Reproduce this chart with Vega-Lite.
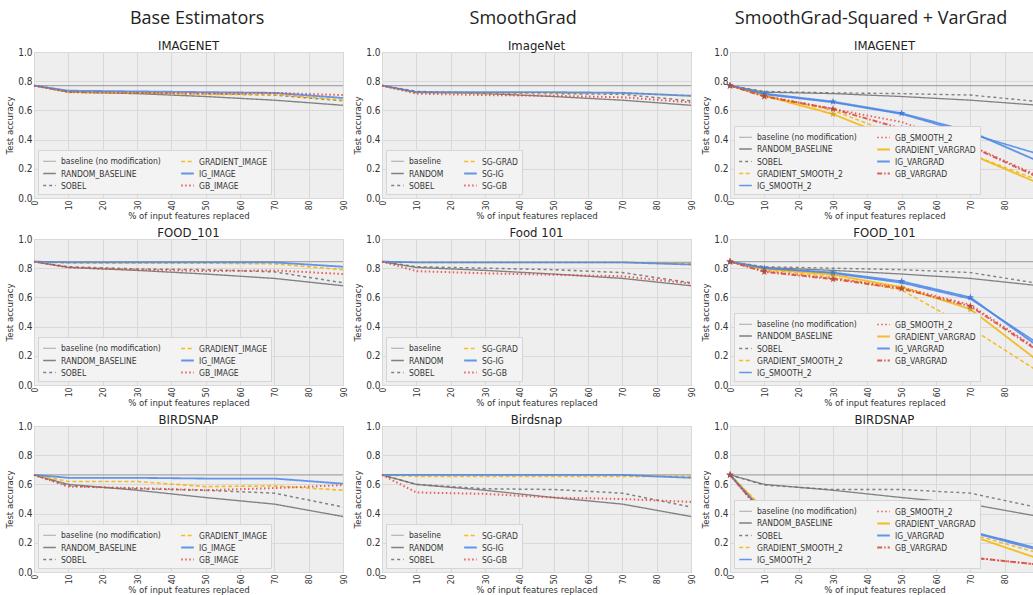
{
"$schema":"https://vega.github.io/schema/vega-lite/v6.json",
"padding":{"left":4,"top":9,"right":0,"bottom":0},
"background":"white",
"data":{"values":[
{"c":1,"d":"I","s":"baseline (no modification)","x":0,"y":0.77},{"c":1,"d":"I","s":"baseline (no modification)","x":90,"y":0.77},
{"c":1,"d":"I","s":"RANDOM_BASELINE","x":0,"y":0.77},{"c":1,"d":"I","s":"RANDOM_BASELINE","x":10,"y":0.725},{"c":1,"d":"I","s":"RANDOM_BASELINE","x":30,"y":0.715},{"c":1,"d":"I","s":"RANDOM_BASELINE","x":50,"y":0.695},{"c":1,"d":"I","s":"RANDOM_BASELINE","x":70,"y":0.67},{"c":1,"d":"I","s":"RANDOM_BASELINE","x":90,"y":0.635},
{"c":1,"d":"I","s":"SOBEL","x":0,"y":0.77},{"c":1,"d":"I","s":"SOBEL","x":10,"y":0.73},{"c":1,"d":"I","s":"SOBEL","x":30,"y":0.72},{"c":1,"d":"I","s":"SOBEL","x":50,"y":0.715},{"c":1,"d":"I","s":"SOBEL","x":70,"y":0.705},{"c":1,"d":"I","s":"SOBEL","x":90,"y":0.665},
{"c":1,"d":"I","s":"GRADIENT_IMAGE","x":0,"y":0.77},{"c":1,"d":"I","s":"GRADIENT_IMAGE","x":10,"y":0.725},{"c":1,"d":"I","s":"GRADIENT_IMAGE","x":30,"y":0.72},{"c":1,"d":"I","s":"GRADIENT_IMAGE","x":50,"y":0.71},{"c":1,"d":"I","s":"GRADIENT_IMAGE","x":70,"y":0.71},{"c":1,"d":"I","s":"GRADIENT_IMAGE","x":90,"y":0.67},
{"c":1,"d":"I","s":"IG_IMAGE","x":0,"y":0.77},{"c":1,"d":"I","s":"IG_IMAGE","x":10,"y":0.735},{"c":1,"d":"I","s":"IG_IMAGE","x":30,"y":0.73},{"c":1,"d":"I","s":"IG_IMAGE","x":50,"y":0.725},{"c":1,"d":"I","s":"IG_IMAGE","x":70,"y":0.72},{"c":1,"d":"I","s":"IG_IMAGE","x":90,"y":0.685},
{"c":1,"d":"I","s":"GB_IMAGE","x":0,"y":0.77},{"c":1,"d":"I","s":"GB_IMAGE","x":10,"y":0.725},{"c":1,"d":"I","s":"GB_IMAGE","x":30,"y":0.72},{"c":1,"d":"I","s":"GB_IMAGE","x":50,"y":0.715},{"c":1,"d":"I","s":"GB_IMAGE","x":70,"y":0.72},{"c":1,"d":"I","s":"GB_IMAGE","x":90,"y":0.705},

{"c":1,"d":"F","s":"baseline (no modification)","x":0,"y":0.845},{"c":1,"d":"F","s":"baseline (no modification)","x":90,"y":0.845},
{"c":1,"d":"F","s":"RANDOM_BASELINE","x":0,"y":0.845},{"c":1,"d":"F","s":"RANDOM_BASELINE","x":10,"y":0.805},{"c":1,"d":"F","s":"RANDOM_BASELINE","x":30,"y":0.785},{"c":1,"d":"F","s":"RANDOM_BASELINE","x":50,"y":0.76},{"c":1,"d":"F","s":"RANDOM_BASELINE","x":70,"y":0.73},{"c":1,"d":"F","s":"RANDOM_BASELINE","x":90,"y":0.68},
{"c":1,"d":"F","s":"SOBEL","x":0,"y":0.845},{"c":1,"d":"F","s":"SOBEL","x":10,"y":0.81},{"c":1,"d":"F","s":"SOBEL","x":30,"y":0.795},{"c":1,"d":"F","s":"SOBEL","x":50,"y":0.79},{"c":1,"d":"F","s":"SOBEL","x":70,"y":0.775},{"c":1,"d":"F","s":"SOBEL","x":90,"y":0.70},
{"c":1,"d":"F","s":"GRADIENT_IMAGE","x":0,"y":0.845},{"c":1,"d":"F","s":"GRADIENT_IMAGE","x":10,"y":0.835},{"c":1,"d":"F","s":"GRADIENT_IMAGE","x":30,"y":0.835},{"c":1,"d":"F","s":"GRADIENT_IMAGE","x":50,"y":0.835},{"c":1,"d":"F","s":"GRADIENT_IMAGE","x":70,"y":0.83},{"c":1,"d":"F","s":"GRADIENT_IMAGE","x":90,"y":0.79},
{"c":1,"d":"F","s":"IG_IMAGE","x":0,"y":0.845},{"c":1,"d":"F","s":"IG_IMAGE","x":10,"y":0.84},{"c":1,"d":"F","s":"IG_IMAGE","x":30,"y":0.84},{"c":1,"d":"F","s":"IG_IMAGE","x":50,"y":0.84},{"c":1,"d":"F","s":"IG_IMAGE","x":70,"y":0.84},{"c":1,"d":"F","s":"IG_IMAGE","x":90,"y":0.81},
{"c":1,"d":"F","s":"GB_IMAGE","x":0,"y":0.845},{"c":1,"d":"F","s":"GB_IMAGE","x":10,"y":0.805},{"c":1,"d":"F","s":"GB_IMAGE","x":30,"y":0.79},{"c":1,"d":"F","s":"GB_IMAGE","x":50,"y":0.78},{"c":1,"d":"F","s":"GB_IMAGE","x":70,"y":0.785},{"c":1,"d":"F","s":"GB_IMAGE","x":90,"y":0.76},

{"c":1,"d":"B","s":"baseline (no modification)","x":0,"y":0.665},{"c":1,"d":"B","s":"baseline (no modification)","x":90,"y":0.665},
{"c":1,"d":"B","s":"RANDOM_BASELINE","x":0,"y":0.665},{"c":1,"d":"B","s":"RANDOM_BASELINE","x":10,"y":0.60},{"c":1,"d":"B","s":"RANDOM_BASELINE","x":30,"y":0.56},{"c":1,"d":"B","s":"RANDOM_BASELINE","x":50,"y":0.51},{"c":1,"d":"B","s":"RANDOM_BASELINE","x":70,"y":0.465},{"c":1,"d":"B","s":"RANDOM_BASELINE","x":90,"y":0.38},
{"c":1,"d":"B","s":"SOBEL","x":0,"y":0.665},{"c":1,"d":"B","s":"SOBEL","x":10,"y":0.59},{"c":1,"d":"B","s":"SOBEL","x":30,"y":0.57},{"c":1,"d":"B","s":"SOBEL","x":50,"y":0.56},{"c":1,"d":"B","s":"SOBEL","x":70,"y":0.54},{"c":1,"d":"B","s":"SOBEL","x":90,"y":0.445},
{"c":1,"d":"B","s":"GRADIENT_IMAGE","x":0,"y":0.665},{"c":1,"d":"B","s":"GRADIENT_IMAGE","x":10,"y":0.62},{"c":1,"d":"B","s":"GRADIENT_IMAGE","x":30,"y":0.62},{"c":1,"d":"B","s":"GRADIENT_IMAGE","x":50,"y":0.585},{"c":1,"d":"B","s":"GRADIENT_IMAGE","x":70,"y":0.59},{"c":1,"d":"B","s":"GRADIENT_IMAGE","x":90,"y":0.56},
{"c":1,"d":"B","s":"IG_IMAGE","x":0,"y":0.665},{"c":1,"d":"B","s":"IG_IMAGE","x":10,"y":0.645},{"c":1,"d":"B","s":"IG_IMAGE","x":30,"y":0.645},{"c":1,"d":"B","s":"IG_IMAGE","x":50,"y":0.64},{"c":1,"d":"B","s":"IG_IMAGE","x":70,"y":0.64},{"c":1,"d":"B","s":"IG_IMAGE","x":90,"y":0.605},
{"c":1,"d":"B","s":"GB_IMAGE","x":0,"y":0.665},{"c":1,"d":"B","s":"GB_IMAGE","x":10,"y":0.585},{"c":1,"d":"B","s":"GB_IMAGE","x":30,"y":0.575},{"c":1,"d":"B","s":"GB_IMAGE","x":50,"y":0.56},{"c":1,"d":"B","s":"GB_IMAGE","x":70,"y":0.575},{"c":1,"d":"B","s":"GB_IMAGE","x":90,"y":0.595},

{"c":2,"d":"I","s":"baseline","x":0,"y":0.77},{"c":2,"d":"I","s":"baseline","x":90,"y":0.77},
{"c":2,"d":"I","s":"RANDOM","x":0,"y":0.77},{"c":2,"d":"I","s":"RANDOM","x":10,"y":0.725},{"c":2,"d":"I","s":"RANDOM","x":30,"y":0.715},{"c":2,"d":"I","s":"RANDOM","x":50,"y":0.695},{"c":2,"d":"I","s":"RANDOM","x":70,"y":0.67},{"c":2,"d":"I","s":"RANDOM","x":90,"y":0.635},
{"c":2,"d":"I","s":"SOBEL","x":0,"y":0.77},{"c":2,"d":"I","s":"SOBEL","x":10,"y":0.73},{"c":2,"d":"I","s":"SOBEL","x":30,"y":0.72},{"c":2,"d":"I","s":"SOBEL","x":50,"y":0.715},{"c":2,"d":"I","s":"SOBEL","x":70,"y":0.71},{"c":2,"d":"I","s":"SOBEL","x":90,"y":0.665},
{"c":2,"d":"I","s":"SG-GRAD","x":0,"y":0.77},{"c":2,"d":"I","s":"SG-GRAD","x":10,"y":0.72},{"c":2,"d":"I","s":"SG-GRAD","x":30,"y":0.72},{"c":2,"d":"I","s":"SG-GRAD","x":50,"y":0.72},{"c":2,"d":"I","s":"SG-GRAD","x":70,"y":0.72},{"c":2,"d":"I","s":"SG-GRAD","x":90,"y":0.70},
{"c":2,"d":"I","s":"SG-IG","x":0,"y":0.77},{"c":2,"d":"I","s":"SG-IG","x":10,"y":0.725},{"c":2,"d":"I","s":"SG-IG","x":30,"y":0.725},{"c":2,"d":"I","s":"SG-IG","x":50,"y":0.725},{"c":2,"d":"I","s":"SG-IG","x":70,"y":0.72},{"c":2,"d":"I","s":"SG-IG","x":90,"y":0.70},
{"c":2,"d":"I","s":"SG-GB","x":0,"y":0.77},{"c":2,"d":"I","s":"SG-GB","x":10,"y":0.715},{"c":2,"d":"I","s":"SG-GB","x":30,"y":0.705},{"c":2,"d":"I","s":"SG-GB","x":50,"y":0.70},{"c":2,"d":"I","s":"SG-GB","x":70,"y":0.69},{"c":2,"d":"I","s":"SG-GB","x":90,"y":0.655},

{"c":2,"d":"F","s":"baseline","x":0,"y":0.84},{"c":2,"d":"F","s":"baseline","x":90,"y":0.84},
{"c":2,"d":"F","s":"RANDOM","x":0,"y":0.845},{"c":2,"d":"F","s":"RANDOM","x":10,"y":0.805},{"c":2,"d":"F","s":"RANDOM","x":30,"y":0.785},{"c":2,"d":"F","s":"RANDOM","x":50,"y":0.76},{"c":2,"d":"F","s":"RANDOM","x":70,"y":0.73},{"c":2,"d":"F","s":"RANDOM","x":90,"y":0.68},
{"c":2,"d":"F","s":"SOBEL","x":0,"y":0.845},{"c":2,"d":"F","s":"SOBEL","x":10,"y":0.81},{"c":2,"d":"F","s":"SOBEL","x":30,"y":0.80},{"c":2,"d":"F","s":"SOBEL","x":50,"y":0.79},{"c":2,"d":"F","s":"SOBEL","x":70,"y":0.77},{"c":2,"d":"F","s":"SOBEL","x":90,"y":0.70},
{"c":2,"d":"F","s":"SG-GRAD","x":0,"y":0.845},{"c":2,"d":"F","s":"SG-GRAD","x":10,"y":0.84},{"c":2,"d":"F","s":"SG-GRAD","x":30,"y":0.84},{"c":2,"d":"F","s":"SG-GRAD","x":50,"y":0.84},{"c":2,"d":"F","s":"SG-GRAD","x":70,"y":0.84},{"c":2,"d":"F","s":"SG-GRAD","x":90,"y":0.83},
{"c":2,"d":"F","s":"SG-IG","x":0,"y":0.845},{"c":2,"d":"F","s":"SG-IG","x":10,"y":0.84},{"c":2,"d":"F","s":"SG-IG","x":30,"y":0.84},{"c":2,"d":"F","s":"SG-IG","x":50,"y":0.84},{"c":2,"d":"F","s":"SG-IG","x":70,"y":0.84},{"c":2,"d":"F","s":"SG-IG","x":90,"y":0.825},
{"c":2,"d":"F","s":"SG-GB","x":0,"y":0.845},{"c":2,"d":"F","s":"SG-GB","x":10,"y":0.78},{"c":2,"d":"F","s":"SG-GB","x":30,"y":0.765},{"c":2,"d":"F","s":"SG-GB","x":50,"y":0.755},{"c":2,"d":"F","s":"SG-GB","x":70,"y":0.745},{"c":2,"d":"F","s":"SG-GB","x":90,"y":0.695},

{"c":2,"d":"B","s":"baseline","x":0,"y":0.665},{"c":2,"d":"B","s":"baseline","x":90,"y":0.665},
{"c":2,"d":"B","s":"RANDOM","x":0,"y":0.665},{"c":2,"d":"B","s":"RANDOM","x":10,"y":0.60},{"c":2,"d":"B","s":"RANDOM","x":30,"y":0.56},{"c":2,"d":"B","s":"RANDOM","x":50,"y":0.51},{"c":2,"d":"B","s":"RANDOM","x":70,"y":0.465},{"c":2,"d":"B","s":"RANDOM","x":90,"y":0.38},
{"c":2,"d":"B","s":"SOBEL","x":0,"y":0.665},{"c":2,"d":"B","s":"SOBEL","x":10,"y":0.60},{"c":2,"d":"B","s":"SOBEL","x":30,"y":0.57},{"c":2,"d":"B","s":"SOBEL","x":50,"y":0.565},{"c":2,"d":"B","s":"SOBEL","x":70,"y":0.54},{"c":2,"d":"B","s":"SOBEL","x":90,"y":0.445},
{"c":2,"d":"B","s":"SG-GRAD","x":0,"y":0.665},{"c":2,"d":"B","s":"SG-GRAD","x":10,"y":0.655},{"c":2,"d":"B","s":"SG-GRAD","x":30,"y":0.655},{"c":2,"d":"B","s":"SG-GRAD","x":50,"y":0.655},{"c":2,"d":"B","s":"SG-GRAD","x":70,"y":0.655},{"c":2,"d":"B","s":"SG-GRAD","x":90,"y":0.655},
{"c":2,"d":"B","s":"SG-IG","x":0,"y":0.665},{"c":2,"d":"B","s":"SG-IG","x":10,"y":0.665},{"c":2,"d":"B","s":"SG-IG","x":30,"y":0.665},{"c":2,"d":"B","s":"SG-IG","x":50,"y":0.665},{"c":2,"d":"B","s":"SG-IG","x":70,"y":0.665},{"c":2,"d":"B","s":"SG-IG","x":90,"y":0.645},
{"c":2,"d":"B","s":"SG-GB","x":0,"y":0.665},{"c":2,"d":"B","s":"SG-GB","x":10,"y":0.545},{"c":2,"d":"B","s":"SG-GB","x":30,"y":0.535},{"c":2,"d":"B","s":"SG-GB","x":50,"y":0.51},{"c":2,"d":"B","s":"SG-GB","x":70,"y":0.50},{"c":2,"d":"B","s":"SG-GB","x":90,"y":0.48},

{"c":3,"d":"I","s":"baseline (no modification)","x":0,"y":0.77},{"c":3,"d":"I","s":"baseline (no modification)","x":90,"y":0.77},
{"c":3,"d":"I","s":"RANDOM_BASELINE","x":0,"y":0.77},{"c":3,"d":"I","s":"RANDOM_BASELINE","x":10,"y":0.725},{"c":3,"d":"I","s":"RANDOM_BASELINE","x":30,"y":0.715},{"c":3,"d":"I","s":"RANDOM_BASELINE","x":50,"y":0.695},{"c":3,"d":"I","s":"RANDOM_BASELINE","x":70,"y":0.67},{"c":3,"d":"I","s":"RANDOM_BASELINE","x":90,"y":0.635},
{"c":3,"d":"I","s":"SOBEL","x":0,"y":0.77},{"c":3,"d":"I","s":"SOBEL","x":10,"y":0.73},{"c":3,"d":"I","s":"SOBEL","x":30,"y":0.72},{"c":3,"d":"I","s":"SOBEL","x":50,"y":0.715},{"c":3,"d":"I","s":"SOBEL","x":70,"y":0.705},{"c":3,"d":"I","s":"SOBEL","x":90,"y":0.66},
{"c":3,"d":"I","s":"GRADIENT_SMOOTH_2","x":0,"y":0.77},{"c":3,"d":"I","s":"GRADIENT_SMOOTH_2","x":10,"y":0.70},{"c":3,"d":"I","s":"GRADIENT_SMOOTH_2","x":30,"y":0.60},{"c":3,"d":"I","s":"GRADIENT_SMOOTH_2","x":50,"y":0.42},{"c":3,"d":"I","s":"GRADIENT_SMOOTH_2","x":70,"y":0.30},{"c":3,"d":"I","s":"GRADIENT_SMOOTH_2","x":90,"y":0.12},
{"c":3,"d":"I","s":"IG_SMOOTH_2","x":0,"y":0.77},{"c":3,"d":"I","s":"IG_SMOOTH_2","x":10,"y":0.71},{"c":3,"d":"I","s":"IG_SMOOTH_2","x":30,"y":0.655},{"c":3,"d":"I","s":"IG_SMOOTH_2","x":50,"y":0.575},{"c":3,"d":"I","s":"IG_SMOOTH_2","x":70,"y":0.44},{"c":3,"d":"I","s":"IG_SMOOTH_2","x":90,"y":0.30},
{"c":3,"d":"I","s":"GB_SMOOTH_2","x":0,"y":0.77},{"c":3,"d":"I","s":"GB_SMOOTH_2","x":10,"y":0.70},{"c":3,"d":"I","s":"GB_SMOOTH_2","x":30,"y":0.61},{"c":3,"d":"I","s":"GB_SMOOTH_2","x":50,"y":0.52},{"c":3,"d":"I","s":"GB_SMOOTH_2","x":70,"y":0.36},{"c":3,"d":"I","s":"GB_SMOOTH_2","x":90,"y":0.15},
{"c":3,"d":"I","s":"GRADIENT_VARGRAD","x":0,"y":0.77},{"c":3,"d":"I","s":"GRADIENT_VARGRAD","x":10,"y":0.70},{"c":3,"d":"I","s":"GRADIENT_VARGRAD","x":30,"y":0.575},{"c":3,"d":"I","s":"GRADIENT_VARGRAD","x":50,"y":0.385},{"c":3,"d":"I","s":"GRADIENT_VARGRAD","x":70,"y":0.30},{"c":3,"d":"I","s":"GRADIENT_VARGRAD","x":90,"y":0.10},
{"c":3,"d":"I","s":"IG_VARGRAD","x":0,"y":0.77},{"c":3,"d":"I","s":"IG_VARGRAD","x":10,"y":0.715},{"c":3,"d":"I","s":"IG_VARGRAD","x":30,"y":0.66},{"c":3,"d":"I","s":"IG_VARGRAD","x":50,"y":0.58},{"c":3,"d":"I","s":"IG_VARGRAD","x":70,"y":0.455},{"c":3,"d":"I","s":"IG_VARGRAD","x":90,"y":0.25},
{"c":3,"d":"I","s":"GB_VARGRAD","x":0,"y":0.77},{"c":3,"d":"I","s":"GB_VARGRAD","x":10,"y":0.695},{"c":3,"d":"I","s":"GB_VARGRAD","x":30,"y":0.61},{"c":3,"d":"I","s":"GB_VARGRAD","x":50,"y":0.475},{"c":3,"d":"I","s":"GB_VARGRAD","x":70,"y":0.355},{"c":3,"d":"I","s":"GB_VARGRAD","x":90,"y":0.14},

{"c":3,"d":"F","s":"baseline (no modification)","x":0,"y":0.845},{"c":3,"d":"F","s":"baseline (no modification)","x":90,"y":0.845},
{"c":3,"d":"F","s":"RANDOM_BASELINE","x":0,"y":0.845},{"c":3,"d":"F","s":"RANDOM_BASELINE","x":10,"y":0.805},{"c":3,"d":"F","s":"RANDOM_BASELINE","x":30,"y":0.785},{"c":3,"d":"F","s":"RANDOM_BASELINE","x":50,"y":0.76},{"c":3,"d":"F","s":"RANDOM_BASELINE","x":70,"y":0.73},{"c":3,"d":"F","s":"RANDOM_BASELINE","x":90,"y":0.68},
{"c":3,"d":"F","s":"SOBEL","x":0,"y":0.845},{"c":3,"d":"F","s":"SOBEL","x":10,"y":0.81},{"c":3,"d":"F","s":"SOBEL","x":30,"y":0.80},{"c":3,"d":"F","s":"SOBEL","x":50,"y":0.79},{"c":3,"d":"F","s":"SOBEL","x":70,"y":0.77},{"c":3,"d":"F","s":"SOBEL","x":90,"y":0.695},
{"c":3,"d":"F","s":"GRADIENT_SMOOTH_2","x":0,"y":0.845},{"c":3,"d":"F","s":"GRADIENT_SMOOTH_2","x":10,"y":0.79},{"c":3,"d":"F","s":"GRADIENT_SMOOTH_2","x":30,"y":0.74},{"c":3,"d":"F","s":"GRADIENT_SMOOTH_2","x":50,"y":0.65},{"c":3,"d":"F","s":"GRADIENT_SMOOTH_2","x":70,"y":0.39},{"c":3,"d":"F","s":"GRADIENT_SMOOTH_2","x":90,"y":0.09},
{"c":3,"d":"F","s":"IG_SMOOTH_2","x":0,"y":0.845},{"c":3,"d":"F","s":"IG_SMOOTH_2","x":10,"y":0.80},{"c":3,"d":"F","s":"IG_SMOOTH_2","x":30,"y":0.765},{"c":3,"d":"F","s":"IG_SMOOTH_2","x":50,"y":0.70},{"c":3,"d":"F","s":"IG_SMOOTH_2","x":70,"y":0.59},{"c":3,"d":"F","s":"IG_SMOOTH_2","x":90,"y":0.28},
{"c":3,"d":"F","s":"GB_SMOOTH_2","x":0,"y":0.845},{"c":3,"d":"F","s":"GB_SMOOTH_2","x":10,"y":0.78},{"c":3,"d":"F","s":"GB_SMOOTH_2","x":30,"y":0.73},{"c":3,"d":"F","s":"GB_SMOOTH_2","x":50,"y":0.67},{"c":3,"d":"F","s":"GB_SMOOTH_2","x":70,"y":0.55},{"c":3,"d":"F","s":"GB_SMOOTH_2","x":90,"y":0.24},
{"c":3,"d":"F","s":"GRADIENT_VARGRAD","x":0,"y":0.845},{"c":3,"d":"F","s":"GRADIENT_VARGRAD","x":10,"y":0.795},{"c":3,"d":"F","s":"GRADIENT_VARGRAD","x":30,"y":0.755},{"c":3,"d":"F","s":"GRADIENT_VARGRAD","x":50,"y":0.67},{"c":3,"d":"F","s":"GRADIENT_VARGRAD","x":70,"y":0.52},{"c":3,"d":"F","s":"GRADIENT_VARGRAD","x":90,"y":0.16},
{"c":3,"d":"F","s":"IG_VARGRAD","x":0,"y":0.845},{"c":3,"d":"F","s":"IG_VARGRAD","x":10,"y":0.80},{"c":3,"d":"F","s":"IG_VARGRAD","x":30,"y":0.77},{"c":3,"d":"F","s":"IG_VARGRAD","x":50,"y":0.71},{"c":3,"d":"F","s":"IG_VARGRAD","x":70,"y":0.60},{"c":3,"d":"F","s":"IG_VARGRAD","x":90,"y":0.26},
{"c":3,"d":"F","s":"GB_VARGRAD","x":0,"y":0.845},{"c":3,"d":"F","s":"GB_VARGRAD","x":10,"y":0.775},{"c":3,"d":"F","s":"GB_VARGRAD","x":30,"y":0.725},{"c":3,"d":"F","s":"GB_VARGRAD","x":50,"y":0.66},{"c":3,"d":"F","s":"GB_VARGRAD","x":70,"y":0.54},{"c":3,"d":"F","s":"GB_VARGRAD","x":90,"y":0.23},

{"c":3,"d":"B","s":"baseline (no modification)","x":0,"y":0.665},{"c":3,"d":"B","s":"baseline (no modification)","x":90,"y":0.665},
{"c":3,"d":"B","s":"RANDOM_BASELINE","x":0,"y":0.665},{"c":3,"d":"B","s":"RANDOM_BASELINE","x":10,"y":0.60},{"c":3,"d":"B","s":"RANDOM_BASELINE","x":30,"y":0.56},{"c":3,"d":"B","s":"RANDOM_BASELINE","x":50,"y":0.51},{"c":3,"d":"B","s":"RANDOM_BASELINE","x":70,"y":0.465},{"c":3,"d":"B","s":"RANDOM_BASELINE","x":90,"y":0.38},
{"c":3,"d":"B","s":"SOBEL","x":0,"y":0.665},{"c":3,"d":"B","s":"SOBEL","x":10,"y":0.595},{"c":3,"d":"B","s":"SOBEL","x":30,"y":0.565},{"c":3,"d":"B","s":"SOBEL","x":50,"y":0.565},{"c":3,"d":"B","s":"SOBEL","x":70,"y":0.54},{"c":3,"d":"B","s":"SOBEL","x":90,"y":0.44},
{"c":3,"d":"B","s":"GRADIENT_SMOOTH_2","x":0,"y":0.665},{"c":3,"d":"B","s":"GRADIENT_SMOOTH_2","x":10,"y":0.43},{"c":3,"d":"B","s":"GRADIENT_SMOOTH_2","x":30,"y":0.40},{"c":3,"d":"B","s":"GRADIENT_SMOOTH_2","x":50,"y":0.34},{"c":3,"d":"B","s":"GRADIENT_SMOOTH_2","x":70,"y":0.26},{"c":3,"d":"B","s":"GRADIENT_SMOOTH_2","x":90,"y":0.13},
{"c":3,"d":"B","s":"IG_SMOOTH_2","x":0,"y":0.665},{"c":3,"d":"B","s":"IG_SMOOTH_2","x":10,"y":0.41},{"c":3,"d":"B","s":"IG_SMOOTH_2","x":30,"y":0.37},{"c":3,"d":"B","s":"IG_SMOOTH_2","x":50,"y":0.335},{"c":3,"d":"B","s":"IG_SMOOTH_2","x":70,"y":0.28},{"c":3,"d":"B","s":"IG_SMOOTH_2","x":90,"y":0.16},
{"c":3,"d":"B","s":"GB_SMOOTH_2","x":0,"y":0.665},{"c":3,"d":"B","s":"GB_SMOOTH_2","x":10,"y":0.38},{"c":3,"d":"B","s":"GB_SMOOTH_2","x":30,"y":0.245},{"c":3,"d":"B","s":"GB_SMOOTH_2","x":50,"y":0.17},{"c":3,"d":"B","s":"GB_SMOOTH_2","x":70,"y":0.10},{"c":3,"d":"B","s":"GB_SMOOTH_2","x":90,"y":0.05},
{"c":3,"d":"B","s":"GRADIENT_VARGRAD","x":0,"y":0.665},{"c":3,"d":"B","s":"GRADIENT_VARGRAD","x":10,"y":0.42},{"c":3,"d":"B","s":"GRADIENT_VARGRAD","x":30,"y":0.38},{"c":3,"d":"B","s":"GRADIENT_VARGRAD","x":50,"y":0.33},{"c":3,"d":"B","s":"GRADIENT_VARGRAD","x":70,"y":0.25},{"c":3,"d":"B","s":"GRADIENT_VARGRAD","x":90,"y":0.09},
{"c":3,"d":"B","s":"IG_VARGRAD","x":0,"y":0.665},{"c":3,"d":"B","s":"IG_VARGRAD","x":10,"y":0.40},{"c":3,"d":"B","s":"IG_VARGRAD","x":30,"y":0.37},{"c":3,"d":"B","s":"IG_VARGRAD","x":50,"y":0.335},{"c":3,"d":"B","s":"IG_VARGRAD","x":70,"y":0.275},{"c":3,"d":"B","s":"IG_VARGRAD","x":90,"y":0.15},
{"c":3,"d":"B","s":"GB_VARGRAD","x":0,"y":0.665},{"c":3,"d":"B","s":"GB_VARGRAD","x":10,"y":0.39},{"c":3,"d":"B","s":"GB_VARGRAD","x":30,"y":0.245},{"c":3,"d":"B","s":"GB_VARGRAD","x":50,"y":0.165},{"c":3,"d":"B","s":"GB_VARGRAD","x":70,"y":0.10},{"c":3,"d":"B","s":"GB_VARGRAD","x":90,"y":0.05}
]},
"hconcat":[
{"title":{"text":"Base Estimators","fontSize":18,"anchor":"middle","frame":"bounds","dx":21,"font":"Open Sans","offset":12},
 "spacing":5,
 "resolve":{"scale":{"color":"independent","strokeDash":"independent","strokeWidth":"independent","x":"independent","y":"independent"},"legend":{"color":"independent","strokeDash":"independent","strokeWidth":"independent"}},
 "vconcat":[
  {"title":"IMAGENET","width":309,"height":146,"transform":[{"filter":"datum.c==1&&datum.d=='I'"}],
   "layer":[{"mark":{"type":"line","opacity":0.85},"encoding":{
    "x":{"field":"x","type":"quantitative","scale":{"domain":[0,90],"nice":false,"zero":false},"axis":{"values":[0,10,20,30,40,50,60,70,80,90],"title":"% of input features replaced"}},
    "y":{"field":"y","type":"quantitative","scale":{"domain":[0,1]},"axis":{"values":[0,0.2,0.4,0.6,0.8,1],"format":".1f","title":"Test accuracy"}},
    "color":{"field":"s","type":"nominal","scale":{"domain":["baseline (no modification)","RANDOM_BASELINE","SOBEL","GRADIENT_IMAGE","IG_IMAGE","GB_IMAGE"],"range":["#9a9a9a","#6e6e6e","#6e6e6e","#f5b400","#4a86e8","#e8443c"]},"legend":{"title":null}},
    "strokeDash":{"field":"s","type":"nominal","scale":{"domain":["baseline (no modification)","RANDOM_BASELINE","SOBEL","GRADIENT_IMAGE","IG_IMAGE","GB_IMAGE"],"range":[[1,0],[1,0],[3,3],[4,2.5],[1,0],[1.5,2.5]]},"legend":{"title":null}},
    "strokeWidth":{"field":"s","type":"nominal","scale":{"domain":["baseline (no modification)","RANDOM_BASELINE","SOBEL","GRADIENT_IMAGE","IG_IMAGE","GB_IMAGE"],"range":[1.2,2,2,2,2,2]},"legend":{"title":null}}}}]},
  {"title":"FOOD_101","width":309,"height":146,"transform":[{"filter":"datum.c==1&&datum.d=='F'"}],
   "layer":[{"mark":{"type":"line","opacity":0.85},"encoding":{
    "x":{"field":"x","type":"quantitative","scale":{"domain":[0,90],"nice":false,"zero":false},"axis":{"values":[0,10,20,30,40,50,60,70,80,90],"title":"% of input features replaced"}},
    "y":{"field":"y","type":"quantitative","scale":{"domain":[0,1]},"axis":{"values":[0,0.2,0.4,0.6,0.8,1],"format":".1f","title":"Test accuracy"}},
    "color":{"field":"s","type":"nominal","scale":{"domain":["baseline (no modification)","RANDOM_BASELINE","SOBEL","GRADIENT_IMAGE","IG_IMAGE","GB_IMAGE"],"range":["#9a9a9a","#6e6e6e","#6e6e6e","#f5b400","#4a86e8","#e8443c"]},"legend":{"title":null}},
    "strokeDash":{"field":"s","type":"nominal","scale":{"domain":["baseline (no modification)","RANDOM_BASELINE","SOBEL","GRADIENT_IMAGE","IG_IMAGE","GB_IMAGE"],"range":[[1,0],[1,0],[3,3],[4,2.5],[1,0],[1.5,2.5]]},"legend":{"title":null}},
    "strokeWidth":{"field":"s","type":"nominal","scale":{"domain":["baseline (no modification)","RANDOM_BASELINE","SOBEL","GRADIENT_IMAGE","IG_IMAGE","GB_IMAGE"],"range":[1.2,2,2,2,2,2]},"legend":{"title":null}}}}]},
  {"title":"BIRDSNAP","width":309,"height":146,"transform":[{"filter":"datum.c==1&&datum.d=='B'"}],
   "layer":[{"mark":{"type":"line","opacity":0.85},"encoding":{
    "x":{"field":"x","type":"quantitative","scale":{"domain":[0,90],"nice":false,"zero":false},"axis":{"values":[0,10,20,30,40,50,60,70,80,90],"title":"% of input features replaced"}},
    "y":{"field":"y","type":"quantitative","scale":{"domain":[0,1]},"axis":{"values":[0,0.2,0.4,0.6,0.8,1],"format":".1f","title":"Test accuracy"}},
    "color":{"field":"s","type":"nominal","scale":{"domain":["baseline (no modification)","RANDOM_BASELINE","SOBEL","GRADIENT_IMAGE","IG_IMAGE","GB_IMAGE"],"range":["#9a9a9a","#6e6e6e","#6e6e6e","#f5b400","#4a86e8","#e8443c"]},"legend":{"title":null}},
    "strokeDash":{"field":"s","type":"nominal","scale":{"domain":["baseline (no modification)","RANDOM_BASELINE","SOBEL","GRADIENT_IMAGE","IG_IMAGE","GB_IMAGE"],"range":[[1,0],[1,0],[3,3],[4,2.5],[1,0],[1.5,2.5]]},"legend":{"title":null}},
    "strokeWidth":{"field":"s","type":"nominal","scale":{"domain":["baseline (no modification)","RANDOM_BASELINE","SOBEL","GRADIENT_IMAGE","IG_IMAGE","GB_IMAGE"],"range":[1.2,2,2,2,2,2]},"legend":{"title":null}}}}]}
 ]},
{"title":{"text":"SmoothGrad","fontSize":18,"anchor":"middle","frame":"bounds","dx":-1,"font":"Open Sans","offset":12},
 "spacing":5,
 "resolve":{"scale":{"color":"independent","strokeDash":"independent","strokeWidth":"independent","x":"independent","y":"independent"},"legend":{"color":"independent","strokeDash":"independent","strokeWidth":"independent"}},
 "vconcat":[
  {"title":"ImageNet","width":309,"height":146,"transform":[{"filter":"datum.c==2&&datum.d=='I'"}],
   "layer":[{"mark":{"type":"line","opacity":0.85},"encoding":{
    "x":{"field":"x","type":"quantitative","scale":{"domain":[0,90],"nice":false,"zero":false},"axis":{"values":[0,10,20,30,40,50,60,70,80,90],"title":"% of input features replaced"}},
    "y":{"field":"y","type":"quantitative","scale":{"domain":[0,1]},"axis":{"values":[0,0.2,0.4,0.6,0.8,1],"format":".1f","title":"Test accuracy"}},
    "color":{"field":"s","type":"nominal","scale":{"domain":["baseline","RANDOM","SOBEL","SG-GRAD","SG-IG","SG-GB"],"range":["#9a9a9a","#6e6e6e","#6e6e6e","#f5b400","#4a86e8","#e8443c"]},"legend":{"title":null}},
    "strokeDash":{"field":"s","type":"nominal","scale":{"domain":["baseline","RANDOM","SOBEL","SG-GRAD","SG-IG","SG-GB"],"range":[[1,0],[1,0],[3,3],[4,2.5],[1,0],[1.5,2.5]]},"legend":{"title":null}},
    "strokeWidth":{"field":"s","type":"nominal","scale":{"domain":["baseline","RANDOM","SOBEL","SG-GRAD","SG-IG","SG-GB"],"range":[1.2,2,2,2,2,2]},"legend":{"title":null}}}}]},
  {"title":"Food 101","width":309,"height":146,"transform":[{"filter":"datum.c==2&&datum.d=='F'"}],
   "layer":[{"mark":{"type":"line","opacity":0.85},"encoding":{
    "x":{"field":"x","type":"quantitative","scale":{"domain":[0,90],"nice":false,"zero":false},"axis":{"values":[0,10,20,30,40,50,60,70,80,90],"title":"% of input features replaced"}},
    "y":{"field":"y","type":"quantitative","scale":{"domain":[0,1]},"axis":{"values":[0,0.2,0.4,0.6,0.8,1],"format":".1f","title":"Test accuracy"}},
    "color":{"field":"s","type":"nominal","scale":{"domain":["baseline","RANDOM","SOBEL","SG-GRAD","SG-IG","SG-GB"],"range":["#9a9a9a","#6e6e6e","#6e6e6e","#f5b400","#4a86e8","#e8443c"]},"legend":{"title":null}},
    "strokeDash":{"field":"s","type":"nominal","scale":{"domain":["baseline","RANDOM","SOBEL","SG-GRAD","SG-IG","SG-GB"],"range":[[1,0],[1,0],[3,3],[4,2.5],[1,0],[1.5,2.5]]},"legend":{"title":null}},
    "strokeWidth":{"field":"s","type":"nominal","scale":{"domain":["baseline","RANDOM","SOBEL","SG-GRAD","SG-IG","SG-GB"],"range":[1.2,2,2,2,2,2]},"legend":{"title":null}}}}]},
  {"title":"Birdsnap","width":309,"height":146,"transform":[{"filter":"datum.c==2&&datum.d=='B'"}],
   "layer":[{"mark":{"type":"line","opacity":0.85},"encoding":{
    "x":{"field":"x","type":"quantitative","scale":{"domain":[0,90],"nice":false,"zero":false},"axis":{"values":[0,10,20,30,40,50,60,70,80,90],"title":"% of input features replaced"}},
    "y":{"field":"y","type":"quantitative","scale":{"domain":[0,1]},"axis":{"values":[0,0.2,0.4,0.6,0.8,1],"format":".1f","title":"Test accuracy"}},
    "color":{"field":"s","type":"nominal","scale":{"domain":["baseline","RANDOM","SOBEL","SG-GRAD","SG-IG","SG-GB"],"range":["#9a9a9a","#6e6e6e","#6e6e6e","#f5b400","#4a86e8","#e8443c"]},"legend":{"title":null}},
    "strokeDash":{"field":"s","type":"nominal","scale":{"domain":["baseline","RANDOM","SOBEL","SG-GRAD","SG-IG","SG-GB"],"range":[[1,0],[1,0],[3,3],[4,2.5],[1,0],[1.5,2.5]]},"legend":{"title":null}},
    "strokeWidth":{"field":"s","type":"nominal","scale":{"domain":["baseline","RANDOM","SOBEL","SG-GRAD","SG-IG","SG-GB"],"range":[1.2,2,2,2,2,2]},"legend":{"title":null}}}}]}
 ]},
{"title":{"text":"SmoothGrad-Squared + VarGrad","fontSize":18,"anchor":"middle","frame":"bounds","dx":-1,"font":"Open Sans","offset":12},
 "spacing":5,
 "resolve":{"scale":{"color":"independent","strokeDash":"independent","strokeWidth":"independent","fill":"independent","x":"independent","y":"independent"},"legend":{"color":"independent","strokeDash":"independent","strokeWidth":"independent"}},
 "vconcat":[
  {"title":"IMAGENET","width":309,"height":146,"transform":[{"filter":"datum.c==3&&datum.d=='I'"}],
   "layer":[{"mark":{"type":"line","opacity":0.85},"encoding":{
    "x":{"field":"x","type":"quantitative","scale":{"domain":[0,90],"nice":false,"zero":false},"axis":{"values":[0,10,20,30,40,50,60,70,80,90],"title":"% of input features replaced"}},
    "y":{"field":"y","type":"quantitative","scale":{"domain":[0,1]},"axis":{"values":[0,0.2,0.4,0.6,0.8,1],"format":".1f","title":"Test accuracy"}},
    "color":{"field":"s","type":"nominal","scale":{"domain":["baseline (no modification)","RANDOM_BASELINE","SOBEL","GRADIENT_SMOOTH_2","IG_SMOOTH_2","GB_SMOOTH_2","GRADIENT_VARGRAD","IG_VARGRAD","GB_VARGRAD"],"range":["#9a9a9a","#6e6e6e","#6e6e6e","#f5b400","#4a86e8","#e8443c","#f5b400","#4a86e8","#d9463c"]},"legend":{"title":null,"encode":{"symbols":{"update":{"shape":{"signal":"indexof(['GRADIENT_VARGRAD','IG_VARGRAD','GB_VARGRAD'],datum.value)>=0 ? 'M-1,0H1M0,-0.6L0.14,-0.19L0.57,-0.19L0.23,0.07L0.35,0.49L0,0.24L-0.35,0.49L-0.23,0.07L-0.57,-0.19L-0.14,-0.19Z' : 'stroke'"},"fill":{"signal":"datum.value=='GRADIENT_VARGRAD' ? '#c9a227' : datum.value=='IG_VARGRAD' ? '#3f77d6' : datum.value=='GB_VARGRAD' ? '#b5443a' : 'transparent'"}}}}}},
    "strokeDash":{"field":"s","type":"nominal","scale":{"domain":["baseline (no modification)","RANDOM_BASELINE","SOBEL","GRADIENT_SMOOTH_2","IG_SMOOTH_2","GB_SMOOTH_2","GRADIENT_VARGRAD","IG_VARGRAD","GB_VARGRAD"],"range":[[1,0],[1,0],[3,3],[4,2.5],[1,0],[1.5,2.5],[1,0],[1,0],[5,2,1.5,2]]},"legend":{"title":null}},
    "strokeWidth":{"field":"s","type":"nominal","scale":{"domain":["baseline (no modification)","RANDOM_BASELINE","SOBEL","GRADIENT_SMOOTH_2","IG_SMOOTH_2","GB_SMOOTH_2","GRADIENT_VARGRAD","IG_VARGRAD","GB_VARGRAD"],"range":[1.2,2,2,2,2,1.5,2,2,1.5]},"legend":{"title":null}}}},
    {"transform":[{"filter":"indexof(['GRADIENT_VARGRAD','IG_VARGRAD','GB_VARGRAD'],datum.s)>=0"}],"mark":{"type":"point","filled":true,"size":60,"opacity":0.9,"shape":"M0,-1L0.235,-0.324L0.951,-0.309L0.38,0.124L0.588,0.809L0,0.4L-0.588,0.809L-0.38,0.124L-0.951,-0.309L-0.235,-0.324Z"},"encoding":{
    "x":{"field":"x","type":"quantitative","scale":{"domain":[0,90],"nice":false,"zero":false},"axis":{"values":[0,10,20,30,40,50,60,70,80,90],"title":"% of input features replaced"}},
    "y":{"field":"y","type":"quantitative","scale":{"domain":[0,1]},"axis":{"values":[0,0.2,0.4,0.6,0.8,1],"format":".1f","title":"Test accuracy"}},
    "fill":{"field":"s","type":"nominal","scale":{"domain":["GRADIENT_VARGRAD","IG_VARGRAD","GB_VARGRAD"],"range":["#c9a227","#3f77d6","#b5443a"]},"legend":null}}}]},
  {"title":"FOOD_101","width":309,"height":146,"transform":[{"filter":"datum.c==3&&datum.d=='F'"}],
   "layer":[{"mark":{"type":"line","opacity":0.85},"encoding":{
    "x":{"field":"x","type":"quantitative","scale":{"domain":[0,90],"nice":false,"zero":false},"axis":{"values":[0,10,20,30,40,50,60,70,80,90],"title":"% of input features replaced"}},
    "y":{"field":"y","type":"quantitative","scale":{"domain":[0,1]},"axis":{"values":[0,0.2,0.4,0.6,0.8,1],"format":".1f","title":"Test accuracy"}},
    "color":{"field":"s","type":"nominal","scale":{"domain":["baseline (no modification)","RANDOM_BASELINE","SOBEL","GRADIENT_SMOOTH_2","IG_SMOOTH_2","GB_SMOOTH_2","GRADIENT_VARGRAD","IG_VARGRAD","GB_VARGRAD"],"range":["#9a9a9a","#6e6e6e","#6e6e6e","#f5b400","#4a86e8","#e8443c","#f5b400","#4a86e8","#d9463c"]},"legend":{"title":null,"encode":{"symbols":{"update":{"shape":{"signal":"indexof(['GRADIENT_VARGRAD','IG_VARGRAD','GB_VARGRAD'],datum.value)>=0 ? 'M-1,0H1M0,-0.6L0.14,-0.19L0.57,-0.19L0.23,0.07L0.35,0.49L0,0.24L-0.35,0.49L-0.23,0.07L-0.57,-0.19L-0.14,-0.19Z' : 'stroke'"},"fill":{"signal":"datum.value=='GRADIENT_VARGRAD' ? '#c9a227' : datum.value=='IG_VARGRAD' ? '#3f77d6' : datum.value=='GB_VARGRAD' ? '#b5443a' : 'transparent'"}}}}}},
    "strokeDash":{"field":"s","type":"nominal","scale":{"domain":["baseline (no modification)","RANDOM_BASELINE","SOBEL","GRADIENT_SMOOTH_2","IG_SMOOTH_2","GB_SMOOTH_2","GRADIENT_VARGRAD","IG_VARGRAD","GB_VARGRAD"],"range":[[1,0],[1,0],[3,3],[4,2.5],[1,0],[1.5,2.5],[1,0],[1,0],[5,2,1.5,2]]},"legend":{"title":null}},
    "strokeWidth":{"field":"s","type":"nominal","scale":{"domain":["baseline (no modification)","RANDOM_BASELINE","SOBEL","GRADIENT_SMOOTH_2","IG_SMOOTH_2","GB_SMOOTH_2","GRADIENT_VARGRAD","IG_VARGRAD","GB_VARGRAD"],"range":[1.2,2,2,2,2,1.5,2,2,1.5]},"legend":{"title":null}}}},
    {"transform":[{"filter":"indexof(['GRADIENT_VARGRAD','IG_VARGRAD','GB_VARGRAD'],datum.s)>=0"}],"mark":{"type":"point","filled":true,"size":60,"opacity":0.9,"shape":"M0,-1L0.235,-0.324L0.951,-0.309L0.38,0.124L0.588,0.809L0,0.4L-0.588,0.809L-0.38,0.124L-0.951,-0.309L-0.235,-0.324Z"},"encoding":{
    "x":{"field":"x","type":"quantitative","scale":{"domain":[0,90],"nice":false,"zero":false},"axis":{"values":[0,10,20,30,40,50,60,70,80,90],"title":"% of input features replaced"}},
    "y":{"field":"y","type":"quantitative","scale":{"domain":[0,1]},"axis":{"values":[0,0.2,0.4,0.6,0.8,1],"format":".1f","title":"Test accuracy"}},
    "fill":{"field":"s","type":"nominal","scale":{"domain":["GRADIENT_VARGRAD","IG_VARGRAD","GB_VARGRAD"],"range":["#c9a227","#3f77d6","#b5443a"]},"legend":null}}}]},
  {"title":"BIRDSNAP","width":309,"height":146,"transform":[{"filter":"datum.c==3&&datum.d=='B'"}],
   "layer":[{"mark":{"type":"line","opacity":0.85},"encoding":{
    "x":{"field":"x","type":"quantitative","scale":{"domain":[0,90],"nice":false,"zero":false},"axis":{"values":[0,10,20,30,40,50,60,70,80,90],"title":"% of input features replaced"}},
    "y":{"field":"y","type":"quantitative","scale":{"domain":[0,1]},"axis":{"values":[0,0.2,0.4,0.6,0.8,1],"format":".1f","title":"Test accuracy"}},
    "color":{"field":"s","type":"nominal","scale":{"domain":["baseline (no modification)","RANDOM_BASELINE","SOBEL","GRADIENT_SMOOTH_2","IG_SMOOTH_2","GB_SMOOTH_2","GRADIENT_VARGRAD","IG_VARGRAD","GB_VARGRAD"],"range":["#9a9a9a","#6e6e6e","#6e6e6e","#f5b400","#4a86e8","#e8443c","#f5b400","#4a86e8","#d9463c"]},"legend":{"title":null,"encode":{"symbols":{"update":{"shape":{"signal":"indexof(['GRADIENT_VARGRAD','IG_VARGRAD','GB_VARGRAD'],datum.value)>=0 ? 'M-1,0H1M0,-0.6L0.14,-0.19L0.57,-0.19L0.23,0.07L0.35,0.49L0,0.24L-0.35,0.49L-0.23,0.07L-0.57,-0.19L-0.14,-0.19Z' : 'stroke'"},"fill":{"signal":"datum.value=='GRADIENT_VARGRAD' ? '#c9a227' : datum.value=='IG_VARGRAD' ? '#3f77d6' : datum.value=='GB_VARGRAD' ? '#b5443a' : 'transparent'"}}}}}},
    "strokeDash":{"field":"s","type":"nominal","scale":{"domain":["baseline (no modification)","RANDOM_BASELINE","SOBEL","GRADIENT_SMOOTH_2","IG_SMOOTH_2","GB_SMOOTH_2","GRADIENT_VARGRAD","IG_VARGRAD","GB_VARGRAD"],"range":[[1,0],[1,0],[3,3],[4,2.5],[1,0],[1.5,2.5],[1,0],[1,0],[5,2,1.5,2]]},"legend":{"title":null}},
    "strokeWidth":{"field":"s","type":"nominal","scale":{"domain":["baseline (no modification)","RANDOM_BASELINE","SOBEL","GRADIENT_SMOOTH_2","IG_SMOOTH_2","GB_SMOOTH_2","GRADIENT_VARGRAD","IG_VARGRAD","GB_VARGRAD"],"range":[1.2,2,2,2,2,1.5,2,2,1.5]},"legend":{"title":null}}}},
    {"transform":[{"filter":"indexof(['GRADIENT_VARGRAD','IG_VARGRAD','GB_VARGRAD'],datum.s)>=0"}],"mark":{"type":"point","filled":true,"size":60,"opacity":0.9,"shape":"M0,-1L0.235,-0.324L0.951,-0.309L0.38,0.124L0.588,0.809L0,0.4L-0.588,0.809L-0.38,0.124L-0.951,-0.309L-0.235,-0.324Z"},"encoding":{
    "x":{"field":"x","type":"quantitative","scale":{"domain":[0,90],"nice":false,"zero":false},"axis":{"values":[0,10,20,30,40,50,60,70,80,90],"title":"% of input features replaced"}},
    "y":{"field":"y","type":"quantitative","scale":{"domain":[0,1]},"axis":{"values":[0,0.2,0.4,0.6,0.8,1],"format":".1f","title":"Test accuracy"}},
    "fill":{"field":"s","type":"nominal","scale":{"domain":["GRADIENT_VARGRAD","IG_VARGRAD","GB_VARGRAD"],"range":["#c9a227","#3f77d6","#b5443a"]},"legend":null}}}]}
 ]}
],
"spacing":4,
"resolve":{"scale":{"color":"independent","strokeDash":"independent","strokeWidth":"independent","fill":"independent","x":"independent","y":"independent"},"legend":{"color":"independent","strokeDash":"independent","strokeWidth":"independent"}},
"config":{
 "font":"Liberation Sans Narrow, DejaVu Sans Condensed, Liberation Sans, sans-serif",
 "view":{"fill":"#eeeeee","stroke":"#bbbbbb","strokeWidth":1},
 "axis":{"grid":true,"gridColor":"#d9d9d9","gridWidth":1,"domain":false,"ticks":false,"labelFontSize":10,"labelColor":"#333333","titleFontSize":9.5,"titleFontWeight":"normal","titleColor":"#333333","labelPadding":2,"titlePadding":3},
 "axisX":{"labelAngle":270,"labelFontSize":8.5,"titlePadding":1},
 "legend":{"orient":"bottom-left","offset":4,"columns":2,"symbolType":"stroke","symbolSize":160,"labelFontSize":8.5,"labelColor":"#333333","fillColor":"#f3f3f3","strokeColor":"#d5d5d5","padding":4,"rowPadding":0,"columnPadding":16,"labelLimit":200},
 "title":{"fontSize":13,"fontWeight":"normal","color":"#222222","offset":-6,"frame":"group"}
}
}
